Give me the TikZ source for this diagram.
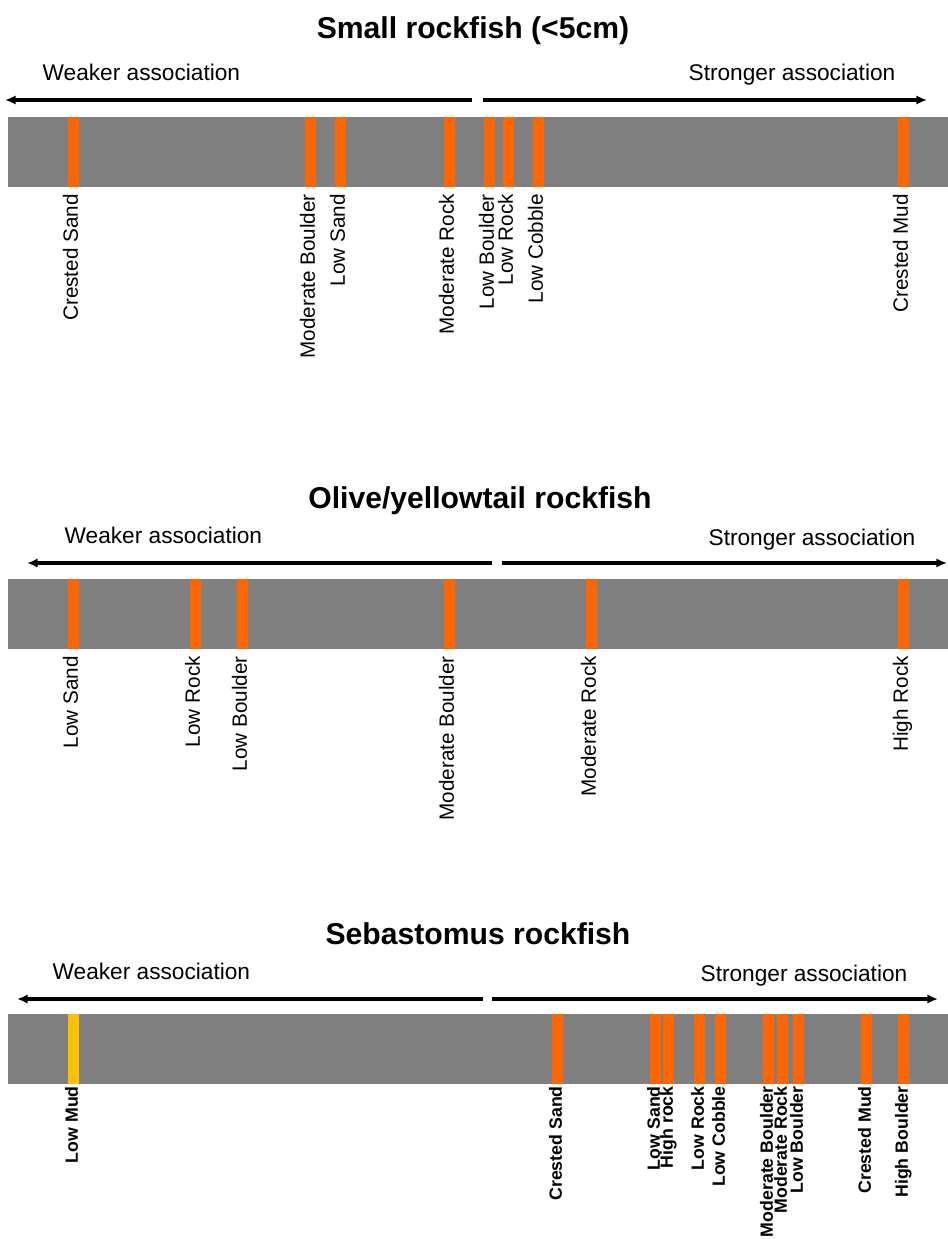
\documentclass[tikz,border=0pt]{standalone}
\usepackage{fontspec}
\setmainfont{Liberation Sans}
\usetikzlibrary{arrows.meta}
\definecolor{bandgray}{HTML}{808080}
\definecolor{habor}{HTML}{FF6600}
\definecolor{habye}{HTML}{FFC000}
\newcommand{\habbar}[2]{\fill[#2] (#1-5.5,0) rectangle (#1+5.5,70);}

\begin{document}
\begin{tikzpicture}[x=0.75pt,y=-0.75pt,
  ttl/.style={anchor=base,font=\bfseries\fontsize{22.6}{26}\selectfont},
  assoc/.style={anchor=base,font=\fontsize{17}{20}\selectfont},
  habtext/.style={rotate=90,anchor=east,inner sep=0pt,text height=0.72em,text depth=0pt,
    font=\fontsize{15.5}{18}\selectfont},
  habtextb/.style={habtext,font=\bfseries\fontsize{13.3}{15}\selectfont},
  dirarrow/.style={line width=2.3pt,-{Latex[length=8pt,width=7pt]}}]
  \useasboundingbox (0,0) rectangle (948,1239);

  % small rockfish
  \node[ttl] (t1) at (473,38) {Small rockfish (<5cm)};
  \node[assoc,anchor=base west] (w1) at (38,80) {Weaker association};
  \node[assoc,anchor=base east] (s1) at (900,80) {Stronger association};
  \coordinate (w1a) at (472,100); \coordinate (w1b) at (5,100);
  \coordinate (s1a) at (483,100); \coordinate (s1b) at (927,100);
  \draw[dirarrow] (w1a) -- (w1b);
  \draw[dirarrow] (s1a) -- (s1b);
  \begin{scope}[yshift=-117*0.75pt]
    \fill[bandgray] (8,0) rectangle (948,70);
    \foreach \x/\t [count=\i] in {73/Crested Sand,310/Moderate Boulder,340/Low Sand,
        449/Moderate Rock,489/Low Boulder,508/Low Rock,538/Low Cobble,903/Crested Mud}{
      \habbar{\x}{habor}
      \node[habtext] (a\i) at (\x,77) {\t};
    }
  \end{scope}

  % olive/yellowtail
  \node[ttl] (t2) at (480,508) {Olive/yellowtail rockfish};
  \node[assoc,anchor=base west] (w2) at (60,543) {Weaker association};
  \node[assoc,anchor=base east] (s2) at (920,545) {Stronger association};
  \coordinate (w2a) at (492,563); \coordinate (w2b) at (27,563);
  \coordinate (s2a) at (502,563); \coordinate (s2b) at (947,563);
  \draw[dirarrow] (w2a) -- (w2b);
  \draw[dirarrow] (s2a) -- (s2b);
  \begin{scope}[yshift=-579*0.75pt]
    \fill[bandgray] (8,0) rectangle (948,70);
    \foreach \x/\t [count=\i] in {73/Low Sand,195/Low Rock,242/Low Boulder,
        449/Moderate Boulder,591/Moderate Rock,903/High Rock}{
      \habbar{\x}{habor}
      \node[habtext] (b\i) at (\x,77) {\t};
    }
  \end{scope}

  % sebastomus
  \node[ttl] (t3) at (478,944) {Sebastomus rockfish};
  \node[assoc,anchor=base west] (w3) at (48,979) {Weaker association};
  \node[assoc,anchor=base east] (s3) at (912,981) {Stronger association};
  \coordinate (w3a) at (483,999); \coordinate (w3b) at (17,999);
  \coordinate (s3a) at (492,999); \coordinate (s3b) at (938,999);
  \draw[dirarrow] (w3a) -- (w3b);
  \draw[dirarrow] (s3a) -- (s3b);
  \begin{scope}[yshift=-1014*0.75pt]
    \fill[bandgray] (8,0) rectangle (948,70);
    \habbar{73}{habye}
    \node[habtextb] (c0) at (73,72) {Low Mud};
    \foreach \x/\t [count=\i] in {557/Crested Sand,655/Low Sand,668/High rock,699/Low Rock,
        720/Low Cobble,768/Moderate Boulder,782/Moderate Rock,798/Low Boulder,
        866/Crested Mud,903/High Boulder}{
      \habbar{\x}{habor}
      \node[habtextb] (c\i) at (\x,72) {\t};
    }
  \end{scope}
\end{tikzpicture}
\end{document}
